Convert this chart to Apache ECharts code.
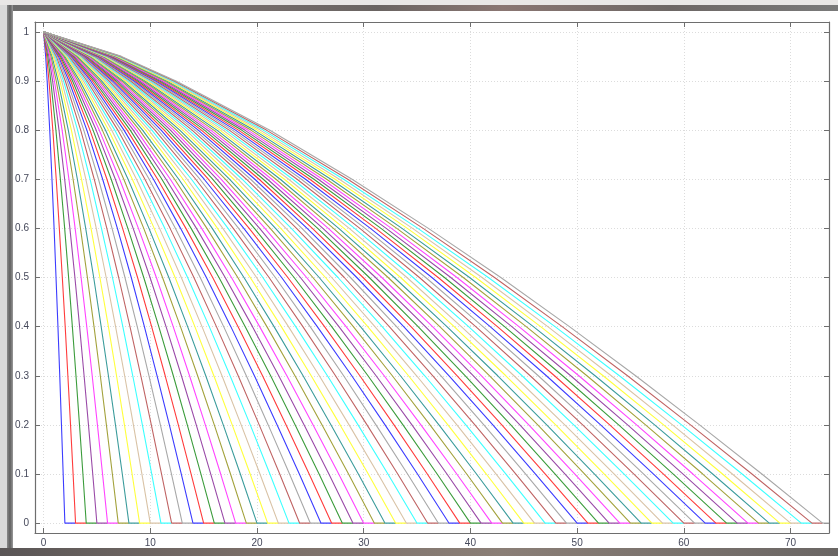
<!DOCTYPE html>
<html>
<head>
<meta charset="utf-8">
<script src="https://cdn.jsdelivr.net/npm/echarts@6/dist/echarts.min.js"></script>
<style>
html,body{margin:0;padding:0;background:#fff;}
#c{width:838px;height:556px;}
</style>
</head>
<body>
<div id="c"></div>
<script>
// y levels at which each curve's x position was read
const yLevels = [1, 0.95, 0.9, 0.8, 0.7, 0.6, 0.5, 0.4, 0.3, 0.2, 0.1, 0, 0];
// x positions of each curve at the y levels above (one row per curve)
const curveX = [
[0,0.2,0.34,0.58,0.79,0.99,1.17,1.35,1.52,1.68,1.84,2,3],
[0,0.3,0.51,0.87,1.19,1.48,1.76,2.03,2.28,2.53,2.77,3,4],
[0,0.4,0.68,1.16,1.58,1.98,2.35,2.7,3.04,3.37,3.69,4,5],
[0,0.5,0.85,1.45,1.98,2.47,2.94,3.38,3.8,4.21,4.61,5,6],
[0,0.6,1.02,1.74,2.38,2.96,3.52,4.05,4.56,5.05,5.53,6,7],
[0,0.7,1.19,2.03,2.77,3.46,4.11,4.73,5.32,5.89,6.45,7,8],
[0,0.8,1.36,2.32,3.17,3.95,4.7,5.4,6.08,6.74,7.38,8,9],
[0,0.9,1.53,2.61,3.56,4.45,5.28,6.08,6.84,7.58,8.3,9,10],
[0,1,1.7,2.9,3.96,4.94,5.87,6.75,7.6,8.42,9.22,10,11],
[0,1.1,1.87,3.19,4.36,5.43,6.46,7.43,8.36,9.26,10.14,11,12],
[0,1.2,2.04,3.48,4.75,5.93,7.04,8.1,9.12,10.1,11.06,12,13],
[0,1.3,2.21,3.77,5.15,6.42,7.63,8.78,9.88,10.95,11.99,13,14],
[0,1.4,2.38,4.06,5.54,6.92,8.22,9.45,10.64,11.79,12.91,14,15],
[0,1.5,2.55,4.35,5.94,7.41,8.81,10.13,11.4,12.63,13.83,15,16],
[0,1.6,2.72,4.64,6.34,7.9,9.39,10.8,12.16,13.47,14.75,16,17],
[0,1.7,2.89,4.93,6.73,8.4,9.98,11.48,12.92,14.31,15.67,17,18],
[0,1.8,3.06,5.22,7.13,8.89,10.57,12.15,13.68,15.16,16.6,18,19],
[0,1.9,3.23,5.51,7.52,9.39,11.15,12.83,14.44,16,17.52,19,20],
[0,2,3.4,5.8,7.92,9.88,11.74,13.5,15.2,16.84,18.44,20,21],
[0,2.1,3.57,6.09,8.32,10.37,12.33,14.18,15.96,17.68,19.36,21,22],
[0,2.2,3.74,6.38,8.71,10.87,12.91,14.85,16.72,18.52,20.28,22,23],
[0,2.3,3.91,6.67,9.11,11.36,13.5,15.53,17.48,19.37,21.21,23,24],
[0,2.4,4.08,6.96,9.5,11.86,14.09,16.2,18.24,20.21,22.13,24,25],
[0,2.5,4.25,7.25,9.9,12.35,14.68,16.88,19,21.05,23.05,25,26],
[0,2.6,4.42,7.54,10.3,12.84,15.26,17.55,19.76,21.89,23.97,26,27],
[0,2.7,4.59,7.83,10.69,13.34,15.85,18.23,20.52,22.73,24.89,27,28],
[0,2.8,4.76,8.12,11.09,13.83,16.44,18.9,21.28,23.58,25.82,28,29],
[0,2.9,4.93,8.41,11.48,14.33,17.02,19.58,22.04,24.42,26.74,29,30],
[0,3,5.1,8.7,11.88,14.82,17.61,20.25,22.8,25.26,27.66,30,31],
[0,3.1,5.27,8.99,12.28,15.31,18.2,20.93,23.56,26.1,28.58,31,32],
[0,3.2,5.44,9.28,12.67,15.81,18.78,21.6,24.32,26.94,29.5,32,33],
[0,3.3,5.61,9.57,13.07,16.3,19.37,22.28,25.08,27.79,30.43,33,34],
[0,3.4,5.78,9.86,13.46,16.8,19.96,22.95,25.84,28.63,31.35,34,35],
[0,3.5,5.95,10.15,13.86,17.29,20.55,23.63,26.6,29.47,32.27,35,36],
[0,3.6,6.12,10.44,14.26,17.78,21.13,24.3,27.36,30.31,33.19,36,37],
[0,3.7,6.29,10.73,14.65,18.28,21.72,24.98,28.12,31.15,34.11,37,38],
[0,3.8,6.46,11.02,15.05,18.77,22.31,25.65,28.88,32,35.04,38,39],
[0,3.9,6.63,11.31,15.44,19.27,22.89,26.33,29.64,32.84,35.96,39,40],
[0,4,6.8,11.6,15.84,19.76,23.48,27,30.4,33.68,36.88,40,41],
[0,4.1,6.97,11.89,16.24,20.25,24.07,27.68,31.16,34.52,37.8,41,42],
[0,4.2,7.14,12.18,16.63,20.75,24.65,28.35,31.92,35.36,38.72,42,43],
[0,4.3,7.31,12.47,17.03,21.24,25.24,29.03,32.68,36.21,39.65,43,44],
[0,4.4,7.48,12.76,17.42,21.74,25.83,29.7,33.44,37.05,40.57,44,45],
[0,4.5,7.65,13.05,17.82,22.23,26.42,30.38,34.2,37.89,41.49,45,46],
[0,4.6,7.82,13.34,18.22,22.72,27,31.05,34.96,38.73,42.41,46,47],
[0,4.7,7.99,13.63,18.61,23.22,27.59,31.73,35.72,39.57,43.33,47,48],
[0,4.8,8.16,13.92,19.01,23.71,28.18,32.4,36.48,40.42,44.26,48,49],
[0,4.9,8.33,14.21,19.4,24.21,28.76,33.08,37.24,41.26,45.18,49,50],
[0,5,8.5,14.5,19.8,24.7,29.35,33.75,38,42.1,46.1,50,51],
[0,5.1,8.67,14.79,20.2,25.19,29.94,34.43,38.76,42.94,47.02,51,52],
[0,5.2,8.84,15.08,20.59,25.69,30.52,35.1,39.52,43.78,47.94,52,53],
[0,5.3,9.01,15.37,20.99,26.18,31.11,35.78,40.28,44.63,48.87,53,54],
[0,5.4,9.18,15.66,21.38,26.68,31.7,36.45,41.04,45.47,49.79,54,55],
[0,5.5,9.35,15.95,21.78,27.17,32.29,37.13,41.8,46.31,50.71,55,56],
[0,5.6,9.52,16.24,22.18,27.66,32.87,37.8,42.56,47.15,51.63,56,57],
[0,5.7,9.69,16.53,22.57,28.16,33.46,38.48,43.32,47.99,52.55,57,58],
[0,5.8,9.86,16.82,22.97,28.65,34.05,39.15,44.08,48.84,53.48,58,59],
[0,5.9,10.03,17.11,23.36,29.15,34.63,39.83,44.84,49.68,54.4,59,60],
[0,6,10.2,17.4,23.76,29.64,35.22,40.5,45.6,50.52,55.32,60,61],
[0,6.1,10.37,17.69,24.16,30.13,35.81,41.18,46.36,51.36,56.24,61,62],
[0,6.2,10.54,17.98,24.55,30.63,36.39,41.85,47.12,52.2,57.16,62,63],
[0,6.3,10.71,18.27,24.95,31.12,36.98,42.53,47.88,53.05,58.09,63,64],
[0,6.4,10.88,18.56,25.34,31.62,37.57,43.2,48.64,53.89,59.01,64,65],
[0,6.5,11.05,18.85,25.74,32.11,38.16,43.88,49.4,54.73,59.93,65,66],
[0,6.6,11.22,19.14,26.14,32.6,38.74,44.55,50.16,55.57,60.85,66,67],
[0,6.7,11.39,19.43,26.53,33.1,39.33,45.23,50.92,56.41,61.77,67,68],
[0,6.8,11.56,19.72,26.93,33.59,39.92,45.9,51.68,57.26,62.7,68,69],
[0,6.9,11.73,20.01,27.32,34.09,40.5,46.58,52.44,58.1,63.62,69,70],
[0,7,11.9,20.3,27.72,34.58,41.09,47.25,53.2,58.94,64.54,70,71],
[0,7.1,12.07,20.59,28.12,35.07,41.68,47.93,53.96,59.78,65.46,71,72],
[0,7.2,12.24,20.88,28.51,35.57,42.26,48.6,54.72,60.62,66.38,72,73],
[0,7.3,12.41,21.17,28.91,36.06,42.85,49.28,55.48,61.47,67.31,73,73.6]
];
const xTicks = [0, 10, 20, 30, 40, 50, 60, 70];
const yTicks = [0, 0.1, 0.2, 0.3, 0.4, 0.5, 0.6, 0.7, 0.8, 0.9, 1];
const palette = ['#3c3cff','#ff3c3c','#3c9c3c','#9a4aa8','#ff44ff','#a3a23c','#3c9c9c','#ffff3c','#d9c3a6','#3cffff','#c06464','#a8a8a8'];

const chart = echarts.init(document.getElementById('c'), null, {renderer: 'canvas'});

const series = curveX.map((row, i) => ({
  type: 'line',
  name: 'c' + i,
  data: row.map((x, k) => [x, yLevels[k]]),
  showSymbol: false,
  symbol: 'none',
  lineStyle: {width: 1.1, color: palette[i % palette.length]},
  itemStyle: {color: palette[i % palette.length]},
  clip: true,
  silent: true,
  z: 2
}));

const labelStyle = {color: '#45485a', fontSize: 10, fontFamily: 'Liberation Sans'};
const gridLine = {show: true, lineStyle: {color: '#dcdcdc', type: [1, 2], width: 1}};
const border = {show: true, onZero: false, lineStyle: {color: '#6e6e6e', width: 1.2}};

const option = {
  animation: false,
  backgroundColor: '#ffffff',
  grid: {left: 35, right: 9, top: 22, bottom: 23, containLabel: false},
  xAxis: [
    {type: 'value', min: -0.8, max: 73.6, position: 'bottom',
     axisLine: border,
     axisTick: {show: true, inside: true, length: 5, customValues: xTicks, lineStyle: {color: '#6e6e6e'}},
     axisLabel: Object.assign({customValues: xTicks, margin: 5}, labelStyle),
     splitLine: gridLine},
    {type: 'value', min: -0.8, max: 73.6, position: 'top',
     axisLine: border,
     axisTick: {show: true, inside: true, length: 5, customValues: xTicks, lineStyle: {color: '#6e6e6e'}},
     axisLabel: {show: false},
     splitLine: {show: false}}
  ],
  yAxis: [
    {type: 'value', min: -0.02, max: 1.02, position: 'left',
     axisLine: border,
     axisTick: {show: true, inside: true, length: 5, customValues: yTicks, lineStyle: {color: '#6e6e6e'}},
     axisLabel: Object.assign({customValues: yTicks, margin: 6, formatter: v => String(+v.toFixed(1))}, labelStyle),
     splitLine: gridLine},
    {type: 'value', min: -0.02, max: 1.02, position: 'right',
     axisLine: border,
     axisTick: {show: true, inside: true, length: 5, customValues: yTicks, lineStyle: {color: '#6e6e6e'}},
     axisLabel: {show: false},
     splitLine: {show: false}}
  ],
  graphic: [
    {type: 'rect', shape: {x: 0, y: 0, width: 838, height: 5}, style: {fill: '#e9e7e6'}, silent: true, z: -1},
    {type: 'rect', shape: {x: 0, y: 5, width: 838, height: 6},
     style: {fill: new echarts.graphic.LinearGradient(0, 0, 1, 0, [
       {offset: 0, color: '#6b6b6b'}, {offset: 0.2, color: '#7d7371'}, {offset: 0.45, color: '#6a6462'},
       {offset: 0.6, color: '#8a7672'}, {offset: 0.8, color: '#6d6765'}, {offset: 1, color: '#7a7a7a'}])}, silent: true, z: -1},
    {type: 'rect', shape: {x: 0, y: 5, width: 7, height: 551}, style: {fill: '#d9d9d9'}, silent: true, z: -1},
    {type: 'rect', shape: {x: 7, y: 5, width: 6, height: 545},
     style: {fill: new echarts.graphic.LinearGradient(0, 0, 1, 0, [
       {offset: 0, color: '#8a8a8a'}, {offset: 0.5, color: '#5f5f5f'}, {offset: 1, color: '#9a9a9a'}])}, silent: true, z: -1},
    {type: 'rect', shape: {x: 0, y: 548, width: 838, height: 8},
     style: {fill: new echarts.graphic.LinearGradient(0, 0, 1, 0, [
       {offset: 0, color: '#5a5656'}, {offset: 0.3, color: '#7a6e68'}, {offset: 0.6, color: '#8a7e76'}, {offset: 1, color: '#6a6664'}])}, silent: true, z: -1}
  ],
  series: series
};
chart.setOption(option);
</script>
</body>
</html>
